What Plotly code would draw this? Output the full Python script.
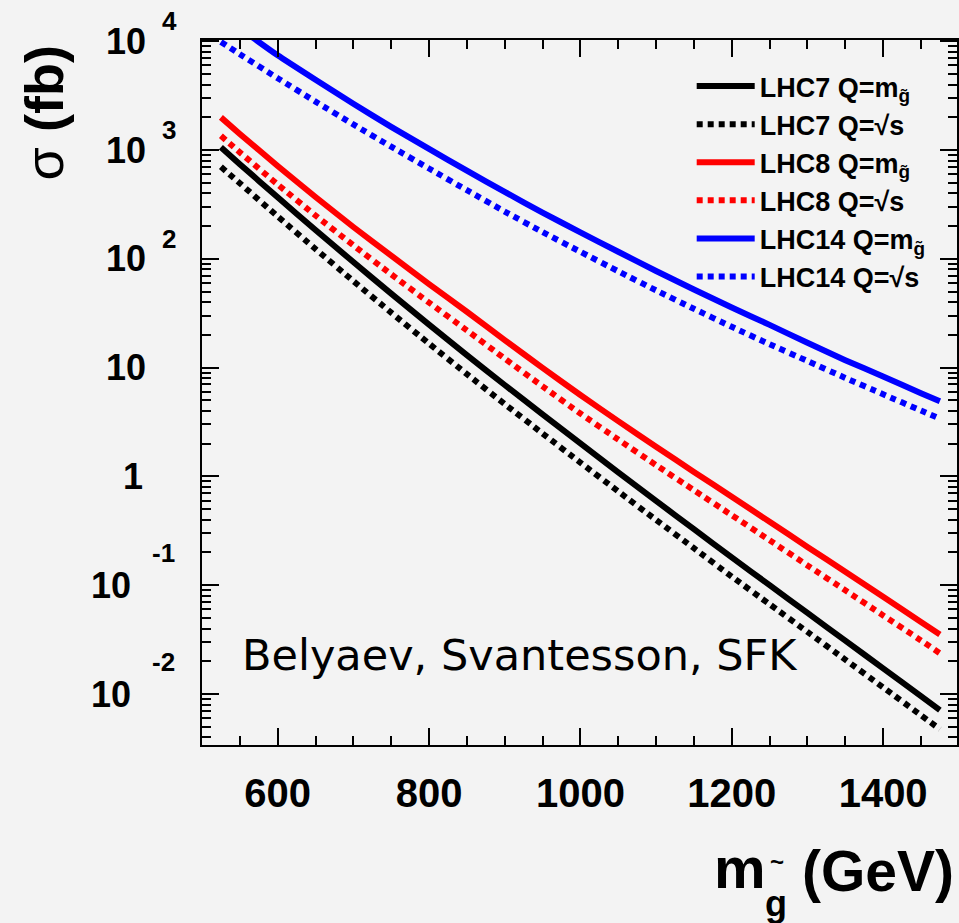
import math
import plotly.graph_objects as go

# ---------------- data ----------------
mass = [525, 550, 600, 650, 700, 750, 800, 850, 900, 950, 1000,
        1050, 1100, 1150, 1200, 1250, 1300, 1350, 1400, 1450, 1475]

lhc7_mg = [1059, 741, 367, 184, 93.3, 47.9, 24.8, 13.0, 6.92, 3.72, 2.01,
           1.09, 0.596, 0.327, 0.180, 0.100, 0.0556, 0.0309, 0.0172, 0.00955, 0.00711]
lhc7_rs = [700, 495, 245, 123, 62.4, 32.0, 16.6, 8.71, 4.62, 2.48, 1.34,
           0.728, 0.398, 0.219, 0.120, 0.0668, 0.0372, 0.0207, 0.0115, 0.00638, 0.00475]
lhc8_mg = [1995, 1406, 713, 370, 196, 107, 58.6, 32.6, 17.9, 9.95, 5.60,
           3.22, 1.87, 1.10, 0.650, 0.383, 0.225, 0.133, 0.0782, 0.0460, 0.0353]
lhc8_rs = [1349, 951, 482, 250, 133, 72.1, 39.6, 22.0, 12.1, 6.73, 3.78,
           2.18, 1.27, 0.746, 0.440, 0.259, 0.152, 0.0897, 0.0528, 0.0311, 0.0237]
lhc14_mg = [17800, 13180, 7413, 4416, 2661, 1633, 1023, 646, 412, 266, 175,
            116, 77.3, 52.2, 35.7, 24.7, 16.9, 11.7, 8.28, 5.82, 4.90]
lhc14_rs = [9840, 7586, 4571, 2786, 1718, 1072, 676, 427, 272, 176, 116,
            76.7, 51.3, 34.7, 23.7, 16.4, 11.5, 8.04, 5.69, 4.03, 3.39]

series_names = ["LHC7 Q=m<sub>g̃</sub>", "LHC7 Q=√s",
                "LHC8 Q=m<sub>g̃</sub>", "LHC8 Q=√s",
                "LHC14 Q=m<sub>g̃</sub>", "LHC14 Q=√s"]
series_values = [lhc7_mg, lhc7_rs, lhc8_mg, lhc8_rs, lhc14_mg, lhc14_rs]
series_colors = ["#000000", "#000000", "#ff0000", "#ff0000", "#0000ff", "#0000ff"]
series_dash = ["solid", "6px,5px", "solid", "6px,5px", "solid", "6px,5px"]

xtick_vals = [600, 800, 1000, 1200, 1400]
xtick_text = ["600", "800", "1000", "1200", "1400"]
xminor_vals = [550, 650, 700, 750, 850, 900, 950, 1050, 1100, 1150,
               1250, 1300, 1350, 1450]

ytick_vals = [1e4, 1e3, 1e2, 10, 1, 0.1, 0.01]
ytick_base = ["10", "10", "10", "10", "1", "10", "10"]
ytick_exp = ["4", "3", "2", "", "", "-1", "-2"]

credit_text = "Belyaev, Svantesson, SFK"

# ---------------- layout geometry ----------------
W, H = 959, 923
L, R, T, B = 202, 959, 40, 745
FONT = "Liberation Sans, Arial, Helvetica, sans-serif"
BG = "#f3f3f3"


def xp(px):
    return (px - L) / (R - L)


def yp(py):
    return (B - py) / (B - T)


fig = go.Figure()
for name, vals, col, dash in zip(series_names, series_values, series_colors, series_dash):
    fig.add_trace(go.Scatter(
        x=mass, y=vals, mode="lines", name=name,
        line=dict(color=col, width=6, dash=dash, shape="spline", smoothing=0.4),
        hoverinfo="skip"))

ymin_minor = []
for n in range(-3, 5):
    for k in range(2, 10):
        ymin_minor.append(k * 10 ** n)

fig.update_layout(
    width=W, height=H,
    margin=dict(l=L, r=W - R, t=T, b=H - B, pad=0),
    paper_bgcolor=BG, plot_bgcolor=BG,
    font=dict(family=FONT, color="black"),
    showlegend=True,
    legend=dict(
        x=xp(693), y=yp(62), xanchor="left", yanchor="top",
        bgcolor="rgba(0,0,0,0)", borderwidth=0,
        font=dict(family=FONT, size=27, color="black", weight="bold"),
        itemwidth=58, tracegroupgap=0,
    ),
    xaxis=dict(
        range=[500, 500 + (R - L) / 0.7588],
        showgrid=False, zeroline=False,
        showline=True, linecolor="black", linewidth=2, mirror="allticks",
        ticks="inside", ticklen=17, tickwidth=2, tickcolor="black",
        tickmode="array", tickvals=xtick_vals, ticktext=xtick_text,
        tickfont=dict(family=FONT, size=40, color="black", weight="bold"),
        ticklabelstandoff=12,
        minor=dict(tickmode="array", tickvals=xminor_vals, ticks="inside",
                   ticklen=9, tickwidth=2, tickcolor="black", showgrid=False),
    ),
    yaxis=dict(
        type="log",
        range=[3 - (B - 150) / 108.8, 3 + (150 - T) / 108.8],
        showgrid=False, zeroline=False,
        showline=True, linecolor="black", linewidth=2, mirror="allticks",
        ticks="inside", ticklen=17, tickwidth=2, tickcolor="black",
        tickmode="array", tickvals=ytick_vals, showticklabels=False,
        minor=dict(tickmode="array", tickvals=ymin_minor, ticks="inside",
                   ticklen=9, tickwidth=2, tickcolor="black", showgrid=False),
    ),
)

ann = []
# y tick labels (base + exponent) placed at the tick values
for v, base, ex in zip(ytick_vals, ytick_base, ytick_exp):
    lv = math.log10(v)
    neg = ex.startswith("-")
    right_px = 133 if neg else (145 if base == "1" else 148)
    ann.append(dict(text=base, x=xp(right_px), y=lv, xref="paper", yref="y",
                    xanchor="right", yanchor="middle", showarrow=False,
                    font=dict(family=FONT, size=36, color="black", weight="bold")))
    if ex:
        ann.append(dict(text=ex, x=xp(150 if neg else 160), y=lv, xref="paper", yref="y",
                        xanchor="left", yanchor="middle", showarrow=False,
                        yshift=32 if neg else 20,
                        font=dict(family=FONT, size=26, color="black", weight="bold")))

# y axis title
ann.append(dict(text="σ <b>(fb)</b>", x=xp(44), y=yp(113), xref="paper", yref="paper",
                xanchor="center", yanchor="middle", showarrow=False, textangle=-90,
                font=dict(family=FONT, size=54, color="black")))

# x axis title: m with subscript g and tilde
ann.append(dict(text="m", x=xp(769), y=yp(868), xref="paper", yref="paper",
                xanchor="right", yanchor="middle", showarrow=False,
                font=dict(family=FONT, size=58, color="black", weight="bold")))
ann.append(dict(text="g", x=xp(778), y=yp(903), xref="paper", yref="paper",
                xanchor="center", yanchor="middle", showarrow=False,
                font=dict(family=FONT, size=36, color="black", weight="bold")))
ann.append(dict(text="~", x=xp(779), y=yp(861), xref="paper", yref="paper",
                xanchor="center", yanchor="middle", showarrow=False,
                font=dict(family=FONT, size=24, color="black", weight="bold")))
ann.append(dict(text="(GeV)", x=xp(958), y=yp(871), xref="paper", yref="paper",
                xanchor="right", yanchor="middle", showarrow=False,
                font=dict(family=FONT, size=57, color="black", weight="bold")))

# handwritten credit
ann.append(dict(text=credit_text, x=xp(240), y=yp(655), xref="paper", yref="paper",
                xanchor="left", yanchor="middle", showarrow=False,
                font=dict(family="DejaVu Sans, sans-serif", size=43, color="black")))

fig.update_layout(annotations=ann)
fig.write_html("out.html")
